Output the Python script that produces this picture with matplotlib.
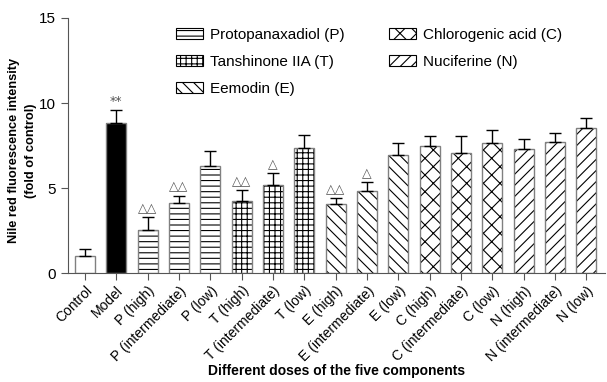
import matplotlib
matplotlib.use('Agg')
import matplotlib.pyplot as plt
from matplotlib.patches import Patch
import numpy as np

plt.rcParams['font.family'] = ['Liberation Sans', 'DejaVu Sans']
plt.rcParams['hatch.linewidth'] = 0.8

labels = ['Control', 'Model', 'P (high)', 'P (intermediate)', 'P (low)',
          'T (high)', 'T (intermediate)', 'T (low)', 'E (high)', 'E (intermediate)',
          'E (low)', 'C (high)', 'C (intermediate)', 'C (low)', 'N (high)',
          'N (intermediate)', 'N (low)']
values = [1.0, 8.84, 2.53, 4.1, 6.3, 4.25, 5.18, 7.37, 4.04, 4.82,
          6.94, 7.5, 7.08, 7.67, 7.27, 7.73, 8.51]
errors = [0.4, 0.76, 0.75, 0.45, 0.9, 0.65, 0.68, 0.73, 0.36, 0.51,
          0.72, 0.58, 1.0, 0.72, 0.61, 0.52, 0.59]
marks = ['', '**', '\u25b3\u25b3', '\u25b3\u25b3', '', '\u25b3\u25b3', '\u25b3', '',
         '\u25b3\u25b3', '\u25b3', '', '', '', '', '', '', '']

groups = ['Protopanaxadiol (P)', 'Tanshinone IIA (T)', 'Eemodin (E)',
          'Chlorogenic acid (C)', 'Nuciferine (N)']
group_hatch = ['---', '+++', '\\\\\\', 'xx', '///']

bar_hatch = ['', ''] + [h for h in group_hatch for _ in range(3)]
bar_face = ['white', 'black'] + ['white'] * 15

fig = plt.figure(figsize=(6.07, 3.82), dpi=100)
ax = fig.add_axes([0.112, 0.285, 0.885, 0.668])

x = np.arange(len(labels))
w = 0.64
edge = '#808080'

ax.bar(x, values, w, color=bar_face, edgecolor='black', hatch=bar_hatch, linewidth=0, zorder=2)
ax.bar(x, values, w, fill=False, edgecolor=edge, linewidth=1.0, zorder=3)
ax.errorbar(x, values, yerr=[np.zeros(len(values)), errors], fmt='none',
            ecolor='black', elinewidth=1, capsize=4, capthick=1, zorder=4)

for xi, v, e, m in zip(x, values, errors, marks):
    if m:
        ax.text(xi, v + e + 0.12, m, ha='center', va='bottom', fontsize=9,
                color='#555555', family=['DejaVu Sans'])

ax.set_xlim(-0.54, len(labels) - 0.4)
ax.set_ylim(0, 15)
ax.set_yticks([0, 5, 10, 15])
ax.set_xticks(x)
ax.set_xticklabels(labels, rotation=45, ha='right', rotation_mode='anchor', fontsize=10)
ax.tick_params(axis='y', labelsize=11)
ax.tick_params(axis='x', pad=2.5)
ax.tick_params(direction='out', length=5, color='#555555')
for s in ['top', 'right']:
    ax.spines[s].set_visible(False)
for s in ['left', 'bottom']:
    ax.spines[s].set_color('#555555')

ax.set_ylabel('Nile red fluorescence intensity\n(fold of control)', fontsize=9.2,
              fontweight='bold', linespacing=1.6)
ax.yaxis.set_label_coords(-0.057, 0.48)
ax.set_xlabel('Different doses of the five components', fontsize=10, fontweight='bold')
ax.xaxis.set_label_coords(0.5, -0.355)

handles = [Patch(facecolor='white', edgecolor='black', hatch=h, linewidth=0.8) for h in group_hatch]
ax.legend(handles, groups, ncol=2, frameon=False, fontsize=11,
          loc='upper left', bbox_to_anchor=(0.267, 0.963),
          bbox_transform=fig.transFigure, handlelength=1.75, handleheight=0.68,
          labelspacing=0.85, columnspacing=2.9, handletextpad=0.5)

fig.savefig('out.png', dpi=100)
